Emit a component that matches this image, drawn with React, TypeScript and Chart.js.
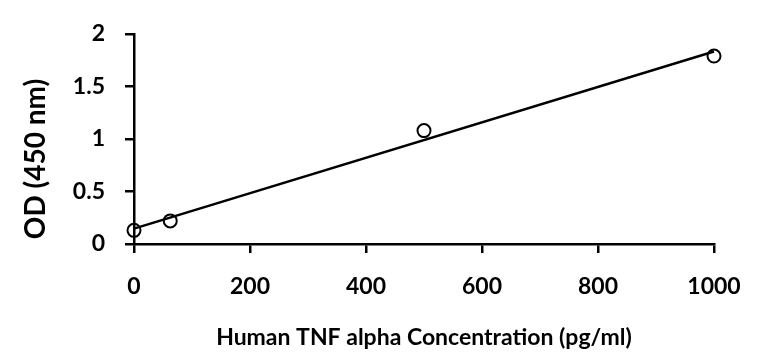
import React, { useEffect, useRef } from "react";
import { Chart, registerables } from "chart.js";

Chart.register(...registerables);

const concentrations = [0, 62.5, 500, 1000];
const odValues = [0.13, 0.22, 1.08, 1.79];
const fitX = [0, 1000];
const fitY = [0.146, 1.833];
const xTicks = [0, 200, 400, 600, 800, 1000];
const yTicks = [0, 0.5, 1, 1.5, 2];
const xTitle = "Human TNF alpha Concentration (pg/ml)";
const yTitle = "OD (450 nm)";

const FONT = "Lato, 'Open Sans', sans-serif";

const yTitlePlugin = {
  id: "yTitleOffset",
  afterDraw(chart: any) {
    const ctx = chart.ctx;
    ctx.save();
    ctx.translate(36, 159);
    ctx.rotate(-Math.PI / 2);
    ctx.fillStyle = "#000";
    ctx.font = `bold 28px ${FONT}`;
    ctx.textAlign = "center";
    ctx.textBaseline = "middle";
    ctx.fillText(yTitle, 0, 0);
    ctx.restore();
  },
};

export default function App() {
  const ref = useRef<HTMLCanvasElement | null>(null);
  useEffect(() => {
    if (!ref.current) return;
    const chart = new Chart(ref.current, {
      type: "scatter",
      data: {
        datasets: [
          {
            type: "scatter",
            data: concentrations.map((x, i) => ({ x, y: odValues[i] })),
            pointRadius: 6.5,
            pointBorderWidth: 2,
            pointBorderColor: "#000",
            pointBackgroundColor: "rgba(255,255,255,0)",
            clip: false,
            order: 1,
          },
          {
            type: "line",
            data: fitX.map((x, i) => ({ x, y: fitY[i] })),
            borderColor: "#000",
            borderWidth: 2.5,
            pointRadius: 0,
            fill: false,
            clip: false,
            order: 2,
          },
        ],
      },
      options: {
        responsive: false,
        animation: false,
        layout: { padding: { top: 34, right: 47, left: 0, bottom: 0 } },
        plugins: { legend: { display: false }, tooltip: { enabled: false } },
        scales: {
          x: {
            type: "linear",
            min: 0,
            max: 1000,
            afterBuildTicks: (s: any) => {
              s.ticks = xTicks.map((v) => ({ value: v }));
            },
            ticks: {
              color: "#000",
              font: { family: FONT, size: 23, weight: "bold" },
              padding: 20,
              callback: (v: any) => String(v),
            },
            grid: {
              drawOnChartArea: false,
              drawTicks: true,
              tickLength: 9,
              color: "#000",
              lineWidth: 2.5,
            },
            border: { display: true, color: "#000", width: 2.5 },
            title: {
              display: true,
              text: xTitle,
              color: "#000",
              font: { family: FONT, size: 23, weight: "bold" },
              padding: { top: 5, bottom: 4 },
            },
            afterFit: (s: any) => {
              s.height = 111;
            },
          },
          y: {
            type: "linear",
            min: 0,
            max: 2,
            afterBuildTicks: (s: any) => {
              s.ticks = yTicks.map((v) => ({ value: v }));
            },
            ticks: {
              color: "#000",
              font: { family: FONT, size: 23, weight: "bold" },
              padding: 20,
              callback: (v: any) => String(v),
            },
            grid: {
              drawOnChartArea: false,
              drawTicks: true,
              tickLength: 9,
              color: "#000",
              lineWidth: 2.5,
            },
            border: { display: true, color: "#000", width: 2.5 },
            title: { display: false },
            afterFit: (s: any) => {
              s.width = 134;
            },
          },
        },
      },
      plugins: [yTitlePlugin],
    });
    return () => chart.destroy();
  }, []);
  return (
    <div style={{ position: "absolute", left: 0, top: 0, width: 761, height: 355, background: "#fff" }}>
      <canvas ref={ref} width={761} height={355} style={{ display: "block" }} />
    </div>
  );
}
